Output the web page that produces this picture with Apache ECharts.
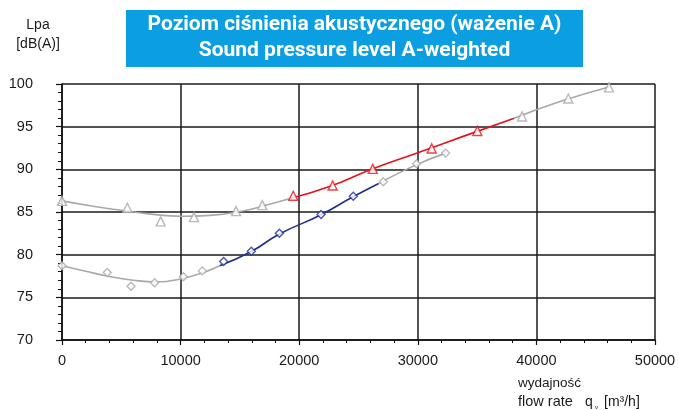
<!DOCTYPE html>
<html><head><meta charset="utf-8">
<script src="https://cdn.jsdelivr.net/npm/echarts@6/dist/echarts.min.js"></script>
<style>html,body{margin:0;padding:0;background:#fff}#c{width:679px;height:410px}</style>
</head><body><div id="c"></div>
<script>
// Measured points (flow rate m3/h, Lpa dB(A))
const triFlow   = [0, 5510, 8320, 11130, 14670, 16890];
const triLevel  = [86.3, 85.5, 83.9, 84.4, 85.1, 85.8];
const redFlow   = [19500, 22820, 26200, 31170, 35020];
const redLevel  = [86.9, 88.1, 90.05, 92.45, 94.5];
const tri2Flow  = [38790, 42690, 46120];
const tri2Level = [96.2, 98.3, 99.6];
const diaFlow   = [0, 3820, 5820, 7810, 10230, 11830];
const diaLevel  = [78.7, 77.9, 76.3, 76.7, 77.4, 78.1];
const blueFlow  = [13630, 15960, 18330, 21840, 24560];
const blueLevel = [79.2, 80.4, 82.5, 84.7, 86.85];
const dia2Flow  = [27090, 29900, 32350];
const dia2Level = [88.55, 90.65, 91.9];
// Trend curves
const upGrayAFlow = [0, 2500, 5000, 7500, 10000, 12500, 15000, 17500, 19300];
const upGrayALvl  = [86.3, 85.7, 85.2, 84.75, 84.5, 84.6, 85.05, 85.9, 86.6];
const upRedFlow   = [19300, 22500, 26000, 30000, 34000, 38130];
const upRedLvl    = [86.6, 87.95, 89.95, 91.95, 93.95, 96.0];
const upGrayBFlow = [38130, 42000, 46120];
const upGrayBLvl  = [96.0, 97.95, 99.65];
const loGrayAFlow = [0, 2000, 4000, 6000, 8000, 10000, 12000, 13300];
const loGrayALvl  = [78.7, 78.05, 77.45, 77.0, 76.8, 77.15, 77.95, 78.7];
const loBlueFlow  = [13300, 16000, 18300, 21800, 24500, 26700];
const loBlueLvl   = [78.7, 80.4, 82.4, 84.65, 86.75, 88.35];
const loGrayBFlow = [26700, 29900, 32350];
const loGrayBLvl  = [88.35, 90.55, 91.9];
const xTicks = [0, 10000, 20000, 30000, 40000, 50000];
const yTicks = [70, 75, 80, 85, 90, 95, 100];

const GRAY = '#a8a8a8', RED = '#e3141b', BLUE = '#1f2f8c';
const zip = (a, b) => a.map((v, i) => [v, b[i]]);
const line = (f, l, c) => ({type:'line', data: zip(f, l), smooth: true, symbol:'none',
  lineStyle:{color:c, width:1.6}, z:2, silent:true});
const pts = (f, l, c, sym, size) => ({type:'scatter', data: zip(f, l), symbol: sym, symbolSize: size,
  itemStyle:{color:'#fff', borderColor:c, borderWidth:1.4}, z:3});

const chart = echarts.init(document.getElementById('c'), null, {renderer:'canvas'});
const F = '"Liberation Sans", Arial, sans-serif';
const T = 'Roboto, "Liberation Sans", sans-serif';
chart.setOption({
  animation:false,
  backgroundColor:'#fff',
  grid:{left:62, right:24, top:84, bottom:70, containLabel:false},
  xAxis:{type:'value', min:xTicks[0], max:xTicks[xTicks.length-1], interval:10000,
    axisLine:{show:true, onZero:false, lineStyle:{color:'#111', width:1.5}},
    axisTick:{show:true, inside:false, length:5, lineStyle:{color:'#111', width:1.2}},
    minorTick:{show:true, splitNumber:5, length:3, lineStyle:{color:'#111', width:1}},
    splitLine:{show:true, lineStyle:{color:'#1a1a1a', width:1.5}},
    axisLabel:{color:'#1a1a1a', fontSize:14.5, fontFamily:F, margin:13, formatter: v => String(v)}},
  yAxis:{type:'value', min:yTicks[0], max:yTicks[yTicks.length-1], interval:5,
    axisLine:{show:true, lineStyle:{color:'#111', width:1.5}},
    axisTick:{show:true, inside:false, length:6, lineStyle:{color:'#111', width:1.2}},
    minorTick:{show:true, splitNumber:5, length:4, lineStyle:{color:'#111', width:1}},
    splitLine:{show:true, lineStyle:{color:'#1a1a1a', width:1.5}},
    axisLabel:{color:'#1a1a1a', fontSize:14.5, fontFamily:F, margin:29}},
  graphic:[
    {type:'rect', left:126, top:10, shape:{width:457, height:57}, style:{fill:'#0b9fe2'}},
    {type:'text', x:354.5, y:25, style:{text:'Poziom ciśnienia akustycznego (ważenie A)', fill:'#fff',
      font:'bold 21px ' + T, align:'center', verticalAlign:'middle'}},
    {type:'text', x:354.5, y:51, style:{text:'Sound pressure level A-weighted', fill:'#fff',
      font:'bold 21px ' + T, align:'center', verticalAlign:'middle'}},
    {type:'text', x:38, y:25, style:{text:'Lpa', fill:'#1a1a1a', font:'14px ' + F, align:'center', verticalAlign:'middle'}},
    {type:'text', x:38, y:44, style:{text:'[dB(A)]', fill:'#1a1a1a', font:'14px ' + F, align:'center', verticalAlign:'middle'}},
    {type:'text', x:518, y:383, style:{text:'wydajność', fill:'#1a1a1a', font:'13.5px ' + F, verticalAlign:'middle'}},
    {type:'text', x:518, y:402, style:{text:'flow rate', fill:'#1a1a1a', font:'14.5px ' + F, verticalAlign:'middle'}},
    {type:'text', x:585, y:402, style:{text:'q', fill:'#1a1a1a', font:'14px ' + F, verticalAlign:'middle'}},
    {type:'text', x:595, y:407, style:{text:'v', fill:'#1a1a1a', font:'6px ' + F, verticalAlign:'middle'}},
    {type:'text', x:604, y:402, style:{text:'[m³/h]', fill:'#1a1a1a', font:'14px ' + F, verticalAlign:'middle'}}
  ],
  series:[
    line(upGrayAFlow, upGrayALvl, GRAY),
    line(upRedFlow, upRedLvl, RED),
    line(upGrayBFlow, upGrayBLvl, GRAY),
    line(loGrayAFlow, loGrayALvl, GRAY),
    line(loBlueFlow, loBlueLvl, BLUE),
    line(loGrayBFlow, loGrayBLvl, GRAY),
    pts(triFlow, triLevel, GRAY, 'triangle', 9),
    pts(redFlow, redLevel, RED, 'triangle', 9),
    pts(tri2Flow, tri2Level, GRAY, 'triangle', 9),
    pts(diaFlow, diaLevel, GRAY, 'diamond', 8),
    pts(blueFlow, blueLevel, BLUE, 'diamond', 8),
    pts(dia2Flow, dia2Level, GRAY, 'diamond', 8)
  ]
});
</script></body></html>
